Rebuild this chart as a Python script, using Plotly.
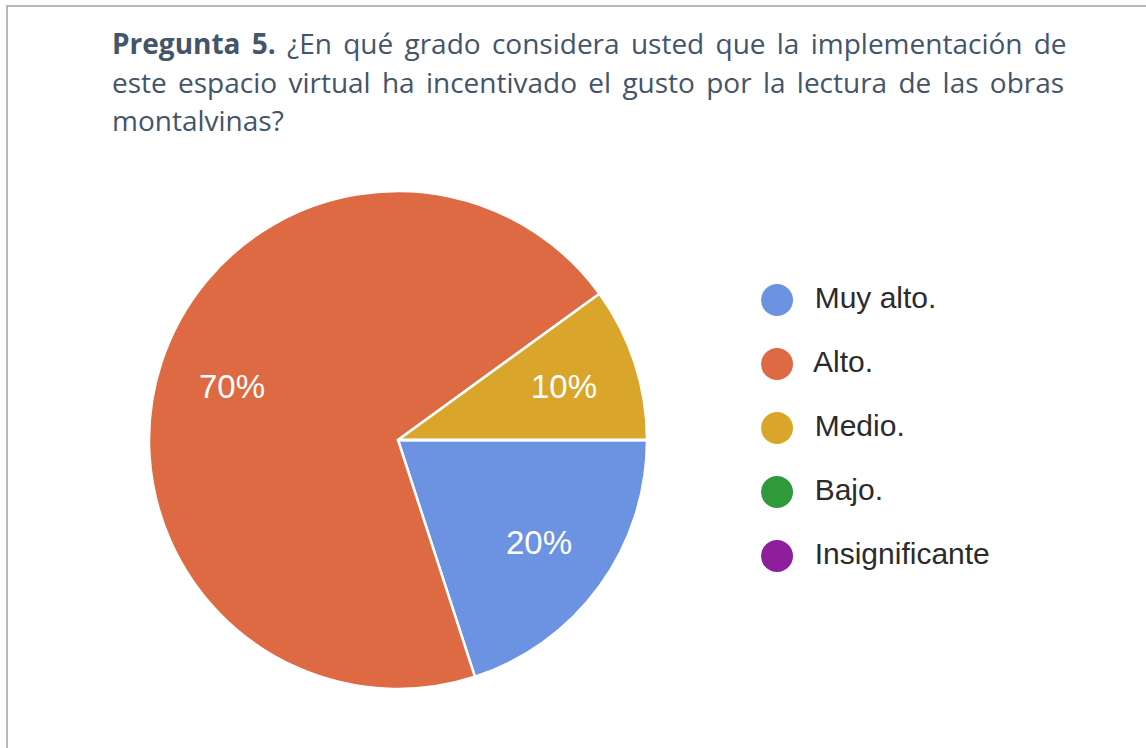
import math
import plotly.graph_objects as go

# Survey answers for question 5
categories = ["Muy alto.", "Alto.", "Medio.", "Bajo.", "Insignificante"]
shares = [20, 70, 10, 0, 0]
colors = ["#6c93e2", "#dd6a43", "#d9a52a", "#2f9a3b", "#8f1e9d"]

title_lines = [
    "<b>Pregunta 5.</b> ¿En qué grado considera usted que la implementación de",
    "este espacio virtual ha incentivado el gusto por la lectura de las obras",
    "montalvinas?",
]
# extra gap between words so the first two lines run to the right margin
title_word_gap = [4, 4, 0]

W, H = 1146, 748
CX, CY, R = 398, 440, 249   # pie centre and radius in pixels

fig = go.Figure()

# Pie: first slice starts at 3 o'clock and runs clockwise
fig.add_trace(go.Pie(
    labels=categories,
    values=shares,
    marker=dict(colors=colors, line=dict(color="white", width=2.5)),
    sort=False,
    direction="clockwise",
    rotation=90,
    textinfo="none",
    showlegend=False,
    hoverinfo="label+percent",
    domain=dict(x=[(CX - R) / W, (CX + R) / W], y=[1 - (CY + R) / H, 1 - (CY - R) / H]),
))

# Percentage labels at 70 % of the radius, on each slice's middle angle
total = sum(shares)
start = 0.0
for v in shares:
    if v <= 0:
        continue
    frac = v / total
    mid = (start + frac / 2) * 2 * math.pi     # clockwise from 3 o'clock
    start += frac
    fig.add_annotation(
        x=(CX + 0.7 * R * math.cos(mid)) / W,
        y=1 - (CY + 0.7 * R * math.sin(mid)) / H,
        xref="paper", yref="paper", showarrow=False,
        xanchor="center", yanchor="middle",
        text=f"{round(frac * 100)}%",
        font=dict(family="Liberation Sans, Arial, sans-serif", size=33, color="white"),
    )

# Legend drawn as circle markers with labels
leg_y = [1 - (300 + 64 * i) / H for i in range(len(categories))]
fig.add_trace(go.Scatter(
    x=[777 / W] * len(categories),
    y=leg_y,
    mode="markers+text",
    marker=dict(symbol="circle", size=32, color=colors),
    text=["  " + c for c in categories],
    textposition="middle right",
    textfont=dict(family="Liberation Sans, Arial, sans-serif", size=30, color="#2b2b2b"),
    showlegend=False,
    hoverinfo="skip",
    cliponaxis=False,
))

# Question text
for i, line in enumerate(title_lines):
    gap = title_word_gap[i]
    txt = f'<span style="word-spacing:{gap}px">{line}</span>' if gap else line
    fig.add_annotation(
        x=110 / W, y=1 - (43 + 38.5 * i) / H,
        xref="paper", yref="paper",
        xanchor="left", yanchor="middle",
        text=txt, showarrow=False,
        font=dict(family="Open Sans, Lato, sans-serif", size=28, color="#44546a"),
    )

# Frame lines along the top and left edge
fig.add_shape(type="line", xref="paper", yref="paper",
              x0=6 / W, x1=1, y0=1 - 6 / H, y1=1 - 6 / H,
              line=dict(color="#b8b8b8", width=2))
fig.add_shape(type="line", xref="paper", yref="paper",
              x0=7 / W, x1=7 / W, y0=0, y1=1 - 6 / H,
              line=dict(color="#b8b8b8", width=2))

fig.update_layout(
    width=W, height=H,
    margin=dict(l=0, r=0, t=0, b=0),
    paper_bgcolor="white",
    plot_bgcolor="white",
    xaxis=dict(range=[0, 1], domain=[0, 1], visible=False, fixedrange=True),
    yaxis=dict(range=[0, 1], domain=[0, 1], visible=False, fixedrange=True),
)

fig.write_html("out.html")
